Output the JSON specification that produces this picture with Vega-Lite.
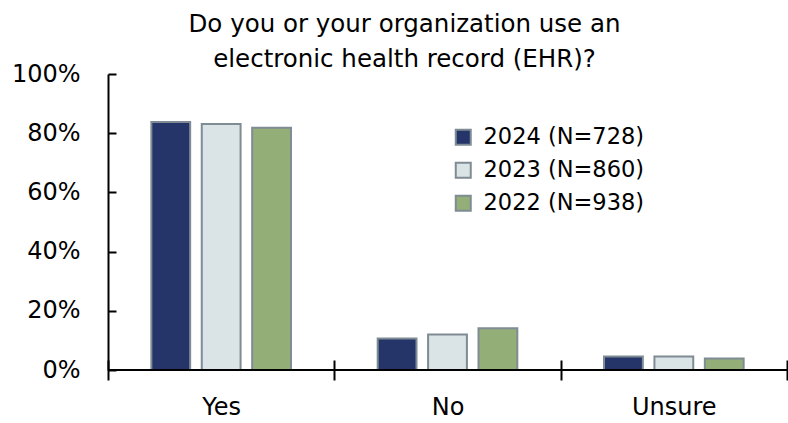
{
  "$schema": "https://vega.github.io/schema/vega-lite/v6.json",
  "width": 679,
  "height": 296,
  "autosize": {"type": "none"},
  "padding": {"left": 108, "top": 74, "right": 1, "bottom": 53},
  "background": "white",
  "config": {
    "view": {"stroke": null},
    "font": "DejaVu Sans",
    "axis": {"labelFont": "DejaVu Sans", "labelColor": "black", "grid": false}
  },
  "title": {
    "text": ["Do you or your organization use an", "electronic health record (EHR)?"],
    "font": "DejaVu Sans",
    "fontSize": 24.5,
    "fontWeight": "normal",
    "color": "black",
    "anchor": "middle",
    "frame": "group",
    "dx": -43,
    "offset": -10,
    "lineHeight": 35
  },
  "data": {
    "values": [
      {"response": "Yes", "year": "2024 (N=728)", "share": 0.838},
      {"response": "Yes", "year": "2023 (N=860)", "share": 0.831},
      {"response": "Yes", "year": "2022 (N=938)", "share": 0.818},
      {"response": "No", "year": "2024 (N=728)", "share": 0.106},
      {"response": "No", "year": "2023 (N=860)", "share": 0.120},
      {"response": "No", "year": "2022 (N=938)", "share": 0.141},
      {"response": "Unsure", "year": "2024 (N=728)", "share": 0.046},
      {"response": "Unsure", "year": "2023 (N=860)", "share": 0.046},
      {"response": "Unsure", "year": "2022 (N=938)", "share": 0.039}
    ]
  },
  "layer": [
    {
      "mark": {"type": "bar", "stroke": "#7F8C94", "strokeWidth": 2},
      "encoding": {
        "x": {
          "field": "response",
          "type": "nominal",
          "sort": ["Yes", "No", "Unsure"],
          "scale": {"paddingInner": 0, "paddingOuter": 0},
          "axis": {
            "title": null,
            "labelAngle": 0,
            "labelFontSize": 24,
            "domain": false,
            "offset": -10,
            "tickBand": "extent",
            "tickSize": 20,
            "tickColor": "black",
            "tickWidth": 2,
            "labelPadding": 15
          }
        },
        "xOffset": {
          "field": "year",
          "type": "nominal",
          "sort": ["2024 (N=728)", "2023 (N=860)", "2022 (N=938)"],
          "scale": {"paddingInner": 0.23, "paddingOuter": 0.86}
        },
        "y": {
          "field": "share",
          "type": "quantitative",
          "scale": {"domain": [0, 1]},
          "axis": {
            "title": null,
            "values": [0, 0.2, 0.4, 0.6, 0.8, 1],
            "format": ".0%",
            "labelFontSize": 24,
            "domainColor": "black",
            "domainWidth": 2,
            "tickColor": "black",
            "tickWidth": 2,
            "tickSize": -8,
            "labelPadding": 36
          }
        },
        "color": {
          "field": "year",
          "type": "nominal",
          "sort": ["2024 (N=728)", "2023 (N=860)", "2022 (N=938)"],
          "scale": {
            "domain": ["2024 (N=728)", "2023 (N=860)", "2022 (N=938)"],
            "range": ["#253569", "#DAE3E6", "#94AE78"]
          },
          "legend": {
            "title": null,
            "orient": "none",
            "legendX": 344,
            "legendY": 52,
            "symbolType": "square",
            "symbolSize": 225,
            "symbolStrokeColor": "#7F8C94",
            "symbolStrokeWidth": 2,
            "labelFont": "DejaVu Sans",
            "labelFontSize": 22.5,
            "labelColor": "black",
            "labelLimit": 400,
            "labelOffset": 9,
            "rowPadding": 9,
            "symbolOpacity": 1
          }
        }
      }
    },
    {
      "mark": {"type": "rule", "color": "black", "strokeWidth": 2},
      "encoding": {"y": {"datum": 0}}
    }
  ]
}
